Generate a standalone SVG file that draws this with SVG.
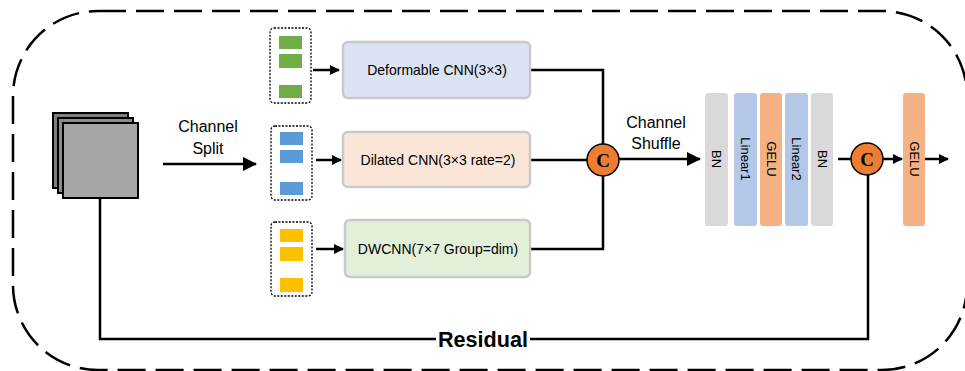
<svg xmlns="http://www.w3.org/2000/svg" width="965" height="371" viewBox="0 0 965 371">
<style>
.t{font-family:"Liberation Sans",Arial,sans-serif;fill:#000}
.ln{fill:none;stroke:#000;stroke-width:2.5}
.dot{fill:#fff;stroke:#000;stroke-width:1.3;stroke-dasharray:2 1.5}
.cnn{stroke:#c9c9c9;stroke-width:2.5}
.bar{stroke:none}
.cc{fill:#ed7d31;stroke:#000;stroke-width:1.5}
.ct{font-family:"Liberation Serif","Times New Roman",serif;font-weight:bold;font-size:19px;text-anchor:middle}
</style>
<defs>
<marker id="ah" markerWidth="10" markerHeight="10" refX="9" refY="5" orient="auto" markerUnits="userSpaceOnUse" viewBox="0 0 10 10">
<path d="M0,0 L10,5 L0,10 z" fill="#000"/>
</marker>
<marker id="ahb" markerWidth="14" markerHeight="14" refX="13" refY="7" orient="auto" markerUnits="userSpaceOnUse" viewBox="0 0 14 14">
<path d="M0,0 L14,7 L0,14 z" fill="#000"/>
</marker>
</defs>
<rect width="965" height="371" fill="#fff"/>
<rect x="13" y="11" width="954" height="359" rx="85" fill="none" stroke="#000" stroke-width="2.5" stroke-dasharray="28 10"/>

<g id="connectors">
<path class="ln" d="M163,164 L256,164" marker-end="url(#ahb)"/>
<path class="ln" d="M313,70 L339,70" marker-end="url(#ah)"/>
<path class="ln" d="M316,160 L341,160" marker-end="url(#ah)"/>
<path class="ln" d="M316,249 L343,249" marker-end="url(#ah)"/>
<path class="ln" d="M530,70 L603,70 L603,144"/>
<path class="ln" d="M530,160 L587,160"/>
<path class="ln" d="M530,249 L603,249 L603,176"/>
<path class="ln" d="M619,159 L700,159" marker-end="url(#ahb)"/>
<path class="ln" d="M838,159 L851,159"/>
<path class="ln" d="M883,159 L902,159" marker-end="url(#ah)"/>
<path class="ln" d="M925,159 L948,159" marker-end="url(#ah)"/>
<path class="ln" d="M100,197 L100,339 L868,339 L868,175"/>
</g>

<g id="input">
<rect x="53" y="113" width="75" height="75" fill="#7f7f7f" stroke="#000" stroke-width="2"/>
<rect x="58" y="118" width="75" height="75" fill="#8c8c8c" stroke="#000" stroke-width="2"/>
<rect x="63" y="123" width="75" height="75" fill="#a6a6a6" stroke="#000" stroke-width="2"/>
</g>

<g id="split-label">
<text class="t" x="208" y="132" font-size="16" text-anchor="middle">Channel</text>
<text class="t" x="208" y="154" font-size="16" text-anchor="middle">Split</text>
</g>

<g id="group-green">
<rect class="dot" x="270" y="28" width="41" height="75" rx="4"/>
<rect x="279" y="36" width="23" height="13" fill="#70ad47"/>
<rect x="279" y="54" width="23" height="14" fill="#70ad47"/>
<rect x="279" y="85" width="23" height="13" fill="#70ad47"/>
</g>
<g id="group-blue">
<rect class="dot" x="271" y="126" width="41" height="74" rx="4"/>
<rect x="280" y="132" width="23" height="13" fill="#5b9bd5"/>
<rect x="280" y="150" width="23" height="13" fill="#5b9bd5"/>
<rect x="280" y="182" width="23" height="13" fill="#5b9bd5"/>
</g>
<g id="group-yellow">
<rect class="dot" x="271" y="222" width="41" height="74" rx="4"/>
<rect x="280" y="229" width="23" height="13" fill="#ffc000"/>
<rect x="280" y="247" width="23" height="14" fill="#ffc000"/>
<rect x="280" y="278" width="23" height="14" fill="#ffc000"/>
</g>

<g id="deformable">
<rect class="cnn" x="343" y="42" width="187" height="56" rx="5" fill="#dae3f3"/>
<text class="t" x="437" y="75" font-size="14" text-anchor="middle">Deformable CNN(3×3)</text>
</g>
<g id="dilated">
<rect class="cnn" x="343" y="132" width="187" height="55" rx="5" fill="#fbe5d6"/>
<text class="t" x="438" y="165" font-size="14" text-anchor="middle">Dilated CNN(3×3 rate=2)</text>
</g>
<g id="dwcnn">
<rect class="cnn" x="345" y="220" width="185" height="57" rx="5" fill="#e2f0d9"/>
<text class="t" x="438" y="254" font-size="14" text-anchor="middle">DWCNN(7×7 Group=dim)</text>
</g>

<g id="concat1">
<circle class="cc" cx="603" cy="160" r="16"/>
<text class="ct" x="603" y="167">C</text>
</g>

<g id="shuffle-label">
<text class="t" x="656" y="128" font-size="16" text-anchor="middle">Channel</text>
<text class="t" x="656" y="149" font-size="16" text-anchor="middle">Shuffle</text>
</g>

<g id="bn1">
<rect class="bar" x="705" y="93" width="23" height="133" rx="3" fill="#d9d9d9"/>
<text class="t" font-size="13" text-anchor="middle" transform="translate(716.5,159) rotate(90)" y="4.5">BN</text>
</g>
<g id="linear1">
<rect class="bar" x="734" y="93" width="23" height="133" rx="3" fill="#b4c7e7"/>
<text class="t" font-size="13" text-anchor="middle" transform="translate(745.5,159) rotate(90)" y="4.5">Linear1</text>
</g>
<g id="gelu1">
<rect class="bar" x="760" y="93" width="22" height="133" rx="3" fill="#f4b183"/>
<text class="t" font-size="13" text-anchor="middle" transform="translate(771,159) rotate(90)" y="4.5">GELU</text>
</g>
<g id="linear2">
<rect class="bar" x="785" y="93" width="23" height="133" rx="3" fill="#b4c7e7"/>
<text class="t" font-size="13" text-anchor="middle" transform="translate(796.5,159) rotate(90)" y="4.5">Linear2</text>
</g>
<g id="bn2">
<rect class="bar" x="811" y="93" width="22" height="133" rx="3" fill="#d9d9d9"/>
<text class="t" font-size="13" text-anchor="middle" transform="translate(822,159) rotate(90)" y="4.5">BN</text>
</g>

<g id="concat2">
<circle class="cc" cx="867" cy="159" r="16"/>
<text class="ct" x="867" y="166">C</text>
</g>

<g id="gelu2">
<rect class="bar" x="903" y="93" width="22" height="133" rx="3" fill="#f4b183"/>
<text class="t" font-size="13" text-anchor="middle" transform="translate(914,159) rotate(90)" y="4.5">GELU</text>
</g>

<g id="residual-label">
<rect x="436" y="328" width="94" height="22" fill="#fff"/>
<text class="t" x="483" y="347" font-size="22" font-weight="bold" text-anchor="middle" textLength="90" lengthAdjust="spacingAndGlyphs">Residual</text>
</g>
</svg>
